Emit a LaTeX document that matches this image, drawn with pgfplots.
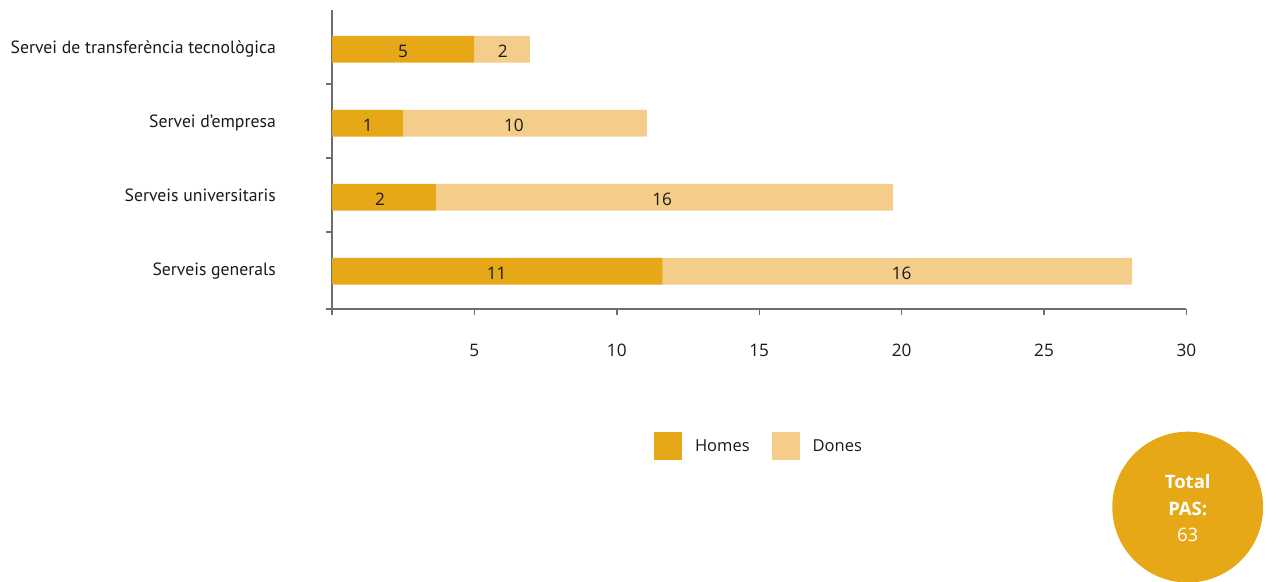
\documentclass[border=0pt]{standalone}
\usepackage{pgfplots}
\pgfplotsset{compat=1.18}
\usepackage{pgfplotstable}
\usepackage{fontspec}
\setmainfont{Open Sans}
\newfontfamily\catfont{PT Sans}
\definecolor{homes}{HTML}{E6A817}
\definecolor{dones}{HTML}{F4CD8A}
\definecolor{axisgray}{HTML}{6E6E6E}
\definecolor{txt}{HTML}{1A1A1A}

\pgfplotstableread{
y H D
0 11.61 16.48
1 3.65 16.04
2 2.49 8.57
3 5.00 1.95
}\bars

\pgfplotstableread{
x y label
2.49 3 5
6.00 3 2
1.26 2 1
6.39 2 10
1.69 1 2
11.59 1 16
5.78 0 11
20.00 0 16
}\labels

\pgfplotsset{base/.style={scale only axis, width=854.4pt, height=299pt,
  at={(332pt,272pt)}, anchor=south west,
  xmin=0, xmax=30, ymin=-0.509, ymax=3.53}}

\begin{document}
\begin{tikzpicture}
\useasboundingbox (0,0) rectangle (1269pt,581pt);
\begin{axis}[base,
  xbar stacked, bar width=26.7pt,
  axis lines=left,
  axis line style={-, draw=axisgray, line width=1.4pt},
  tick align=outside,
  major tick length=6pt, minor tick length=6pt,
  tick style={draw=axisgray, line width=1.4pt},
  xtick={0,5,10,15,20,25,30},
  xticklabels={,5,10,15,20,25,30},
  ytick={0,1,2,3},
  yticklabels={Serveis generals, Serveis universitaris, Servei d’empresa, Servei de transferència tecnològica},
  minor ytick={-0.509,0.53,1.53,2.53},
  major y tick style={draw=none},
  xticklabel style={font=\fontsize{17.2}{21}\selectfont, text=txt, anchor=base, yshift=-41.7pt},
  yticklabel style={font=\catfont\fontsize{17.7}{22}\selectfont, text=txt, anchor=base east, inner sep=0pt, xshift=-50pt, yshift=-3.8pt},
  legend columns=2,
  legend cell align=left,
  legend style={draw=none, fill=none, inner sep=0pt, outer sep=0pt,
    at={(0.3769,-0.4114)}, anchor=north west,
    font=\fontsize{16.5}{20}\selectfont, text=txt,
    nodes={inner sep=0pt},
    /tikz/every odd column/.append style={column sep=13pt},
    /tikz/every even column/.append style={column sep=22pt}},
]
\addplot[fill=homes, draw=none,
  legend image code/.code={\fill[homes] (0pt,-14pt) rectangle (28pt,14pt);}]
  table[x=H, y=y] {\bars};
\addlegendentry{Homes}
\addplot[fill=dones, draw=none,
  legend image code/.code={\fill[dones] (0pt,-14pt) rectangle (28pt,14pt);}]
  table[x=D, y=y] {\bars};
\addlegendentry{Dones}
\end{axis}
\begin{axis}[base, hide axis, clip=false]
\addplot[draw=none, mark=none, nodes near coords, point meta=explicit symbolic,
  nodes near coords align={center},
  every node near coord/.append style={font=\fontsize{17.2}{21}\selectfont, text=txt, yshift=-2pt}]
  table[x=x, y=y, meta=label] {\labels};
\end{axis}
\fill[homes] (1187.7pt,73.9pt) circle (75.4pt);
\node[anchor=base, text=white, font=\bfseries\fontsize{18.5}{22}\selectfont, inner sep=0pt] at (1187.7pt,92pt) {Total};
\node[anchor=base, text=white, font=\bfseries\fontsize{18.5}{22}\selectfont, inner sep=0pt] at (1187.7pt,65.3pt) {PAS:};
\node[anchor=base, text=white, font=\fontsize{18.5}{22}\selectfont, inner sep=0pt] at (1187.7pt,39.3pt) {63};
\end{tikzpicture}
\end{document}
